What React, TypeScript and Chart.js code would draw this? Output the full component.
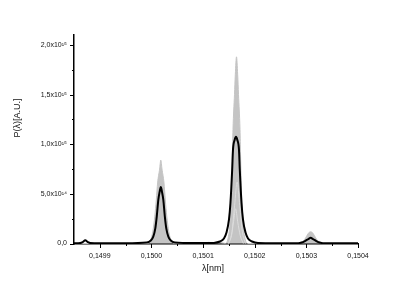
import React, { useEffect, useRef } from "react";
import { Chart, registerables } from "chart.js";

Chart.register(...registerables);

// wavelength [nm] and power [x 1e15 A.U.]
const blackLambda = [0.14985, 0.1498621, 0.1498669, 0.1498718, 0.1498767, 0.1498815, 0.1499, 0.14995, 0.1499909, 0.1499987, 0.1500035, 0.1500074, 0.1500103, 0.1500133, 0.1500158, 0.1500181, 0.1500204, 0.150023, 0.1500259, 0.1500288, 0.1500327, 0.1500375, 0.1500453, 0.15008, 0.150115, 0.150121, 0.1501326, 0.1501404, 0.1501453, 0.1501501, 0.150153, 0.1501563, 0.1501579, 0.1501612, 0.1501637, 0.1501662, 0.1501695, 0.1501711, 0.1501744, 0.1501773, 0.1501822, 0.150187, 0.1501948, 0.1502064, 0.15024, 0.1502844, 0.1502908, 0.1502972, 0.1503038, 0.1503083, 0.1503128, 0.1503194, 0.1503258, 0.1503322, 0.15036, 0.1504];
const blackPower = [0.002, 0.005, 0.015, 0.032, 0.015, 0.005, 0.003, 0.003, 0.01, 0.03, 0.07, 0.15, 0.274, 0.44, 0.52, 0.57, 0.52, 0.44, 0.274, 0.15, 0.07, 0.03, 0.01, 0.004, 0.004, 0.005, 0.02, 0.05, 0.11, 0.24, 0.41, 0.74, 0.945, 1.045, 1.075, 1.045, 0.945, 0.74, 0.41, 0.24, 0.11, 0.05, 0.02, 0.005, 0.003, 0.003, 0.01, 0.025, 0.045, 0.057, 0.045, 0.025, 0.01, 0.003, 0.002, 0.002];

const grayLambda = [0.14985, 0.1499929, 0.1499987, 0.1500026, 0.1500065, 0.1500094, 0.1500119, 0.1500158, 0.1500181, 0.1500204, 0.1500243, 0.1500268, 0.1500297, 0.1500336, 0.1500375, 0.1500433, 0.1501, 0.15011, 0.15012, 0.15013, 0.1501433, 0.1501482, 0.1501521, 0.150155, 0.1501569, 0.1501579, 0.1501608, 0.1501624, 0.1501647, 0.150167, 0.1501686, 0.1501715, 0.1501725, 0.1501744, 0.1501773, 0.1501812, 0.1501861, 0.1502869, 0.1502898, 0.1502966, 0.1503011, 0.150305, 0.1503083, 0.1503116, 0.1503155, 0.15032, 0.1503268, 0.1503297, 0.1504];
const grayPower = [0, 0, 0.04, 0.12, 0.274, 0.44, 0.61, 0.75, 0.84, 0.75, 0.61, 0.44, 0.274, 0.12, 0.04, 0, 0, 0.012, 0.008, 0.015, 0, 0.05, 0.2, 0.5, 0.9, 1.146, 1.5, 1.7, 1.88, 1.7, 1.5, 1.146, 0.9, 0.5, 0.2, 0.05, 0, 0, 0.01, 0.04, 0.08, 0.11, 0.118, 0.11, 0.08, 0.04, 0.01, 0, 0];

const innerALambda = [0.15015, 0.150156, 0.150161, 0.150166, 0.150171, 0.150176, 0.150182];
const innerAPower = [0, 0.12, 0.38, 0.62, 0.38, 0.12, 0];
const innerBLambda = [0.150149, 0.150155, 0.150159, 0.150163, 0.150167, 0.150172, 0.150178];
const innerBPower = [0, 0.08, 0.22, 0.35, 0.22, 0.08, 0];

const xTickValues = [0.1499, 0.15, 0.1501, 0.1502, 0.1503, 0.1504];
const xTickLabels = ["0,1499", "0,1500", "0,1501", "0,1502", "0,1503", "0,1504"];
const xMinorTicks = [0.14995, 0.15005, 0.15015, 0.15025, 0.15035];
const yTickValues = [0, 0.5, 1.0, 1.5, 2.0];
const yTickLabels = ["0,0", "5,0x10\u00b9\u2074", "1,0x10\u00b9\u2075", "1,5x10\u00b9\u2075", "2,0x10\u00b9\u2075"];
const yMinorTicks = [0.25, 0.75, 1.25, 1.75];

const xTitle = "\u03bb[nm]";
const yTitle = "P(\u03bb)[A.U.]";

const FONT = '"Liberation Sans", Arial, sans-serif';

const toPoints = (xs: number[], ys: number[]) => xs.map((x, i) => ({ x, y: ys[i] }));

const decorPlugin = {
  id: "decor",
  afterDraw(chart: any) {
    const { ctx, chartArea, scales } = chart;
    const x = scales.x;
    const y = scales.y;
    ctx.save();
    ctx.strokeStyle = "#000";
    ctx.lineWidth = 1;
    const bottom = chartArea.bottom;
    const left = chartArea.left;
    ctx.beginPath();
    xTickValues.forEach((v) => {
      const p = Math.round(x.getPixelForValue(v)) + 0.5;
      ctx.moveTo(p, bottom);
      ctx.lineTo(p, bottom + 4);
    });
    xMinorTicks.forEach((v) => {
      const p = Math.round(x.getPixelForValue(v)) + 0.5;
      ctx.moveTo(p, bottom);
      ctx.lineTo(p, bottom + 2);
    });
    yTickValues.forEach((v) => {
      const p = Math.round(y.getPixelForValue(v)) + 0.5;
      ctx.moveTo(left, p);
      ctx.lineTo(left - 4, p);
    });
    yMinorTicks.forEach((v) => {
      const p = Math.round(y.getPixelForValue(v)) + 0.5;
      ctx.moveTo(left, p);
      ctx.lineTo(left - 2, p);
    });
    ctx.stroke();

    ctx.fillStyle = "#111";
    ctx.font = `9px ${FONT}`;
    ctx.textAlign = "center";
    ctx.textBaseline = "middle";
    ctx.fillText(xTitle, (chartArea.left + chartArea.right) / 2 - 3, 269);
    ctx.translate(18, 118);
    ctx.rotate(-Math.PI / 2);
    ctx.fillText(yTitle, 0, 0);
    ctx.restore();
  },
};

export default function App() {
  const ref = useRef<HTMLCanvasElement | null>(null);

  useEffect(() => {
    if (!ref.current) return;
    const chart = new Chart(ref.current, {
      type: "line",
      data: {
        datasets: [
          {
            data: toPoints(blackLambda, blackPower),
            borderColor: "#000",
            borderWidth: 2,
            pointRadius: 0,
            fill: false,
            cubicInterpolationMode: "monotone",
          },
          {
            data: toPoints(innerALambda, innerAPower),
            borderColor: "#dcdcdc",
            borderWidth: 1,
            pointRadius: 0,
            fill: false,
            cubicInterpolationMode: "monotone",
          },
          {
            data: toPoints(innerBLambda, innerBPower),
            borderColor: "#dcdcdc",
            borderWidth: 1,
            pointRadius: 0,
            fill: false,
            cubicInterpolationMode: "monotone",
          },
          {
            data: toPoints(grayLambda, grayPower),
            borderColor: "#c4c4c4",
            backgroundColor: "#c4c4c4",
            borderWidth: 1,
            pointRadius: 0,
            fill: "origin",
            cubicInterpolationMode: "monotone",
          },
        ],
      },
      options: {
        animation: false,
        responsive: false,
        events: [],
        layout: { padding: { left: 0, right: 57, top: 35, bottom: 0 } },
        plugins: { legend: { display: false }, tooltip: { enabled: false } },
        scales: {
          x: {
            type: "linear",
            min: 0.14985,
            max: 0.1504,
            afterBuildTicks: (scale: any) => {
              scale.ticks = xTickValues.map((v) => ({ value: v }));
            },
            afterFit: (scale: any) => {
              scale.height = 50;
            },
            grid: { display: false, drawTicks: false },
            border: { display: true, color: "#000", width: 1.5 },
            ticks: {
              autoSkip: false,
              maxRotation: 0,
              padding: 8,
              color: "#111",
              font: { family: FONT, size: 7 },
              callback: (_v: any, i: number) => xTickLabels[i],
            },
          },
          y: {
            type: "linear",
            min: -0.005,
            max: 2.1,
            afterBuildTicks: (scale: any) => {
              scale.ticks = yTickValues.map((v) => ({ value: v }));
            },
            afterFit: (scale: any) => {
              scale.width = 74;
            },
            grid: { display: false, drawTicks: false },
            border: { display: true, color: "#000", width: 1.5 },
            ticks: {
              autoSkip: false,
              padding: 7,
              color: "#111",
              font: { family: FONT, size: 7 },
              callback: (_v: any, i: number) => yTickLabels[i],
            },
          },
        },
      },
      plugins: [decorPlugin],
    });
    return () => chart.destroy();
  }, []);

  return (
    <div style={{ position: "fixed", left: 0, top: 0, width: 415, height: 294, background: "#fff" }}>
      <canvas ref={ref} width={415} height={294} />
    </div>
  );
}
